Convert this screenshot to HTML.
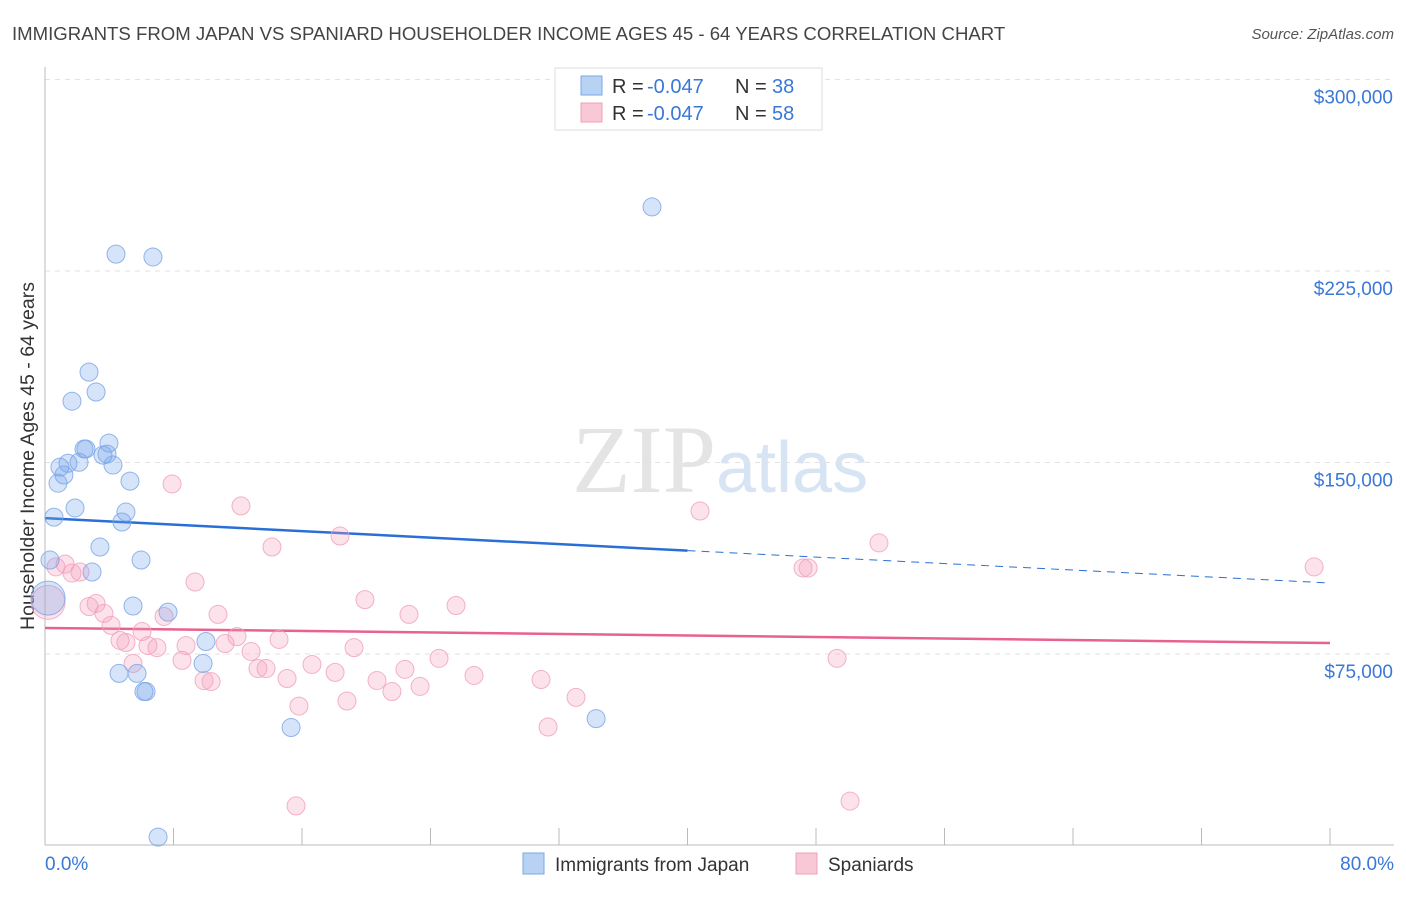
<!DOCTYPE html>
<html><head><meta charset="utf-8"><style>
body{margin:0;background:#fff;font-family:"Liberation Sans",sans-serif;}
</style></head><body>
<svg id="chart" width="1406" height="892" xmlns="http://www.w3.org/2000/svg">
<text x="12" y="40" font-size="18.6" fill="#444">IMMIGRANTS FROM JAPAN VS SPANIARD HOUSEHOLDER INCOME AGES 45 - 64 YEARS CORRELATION CHART</text>
<text x="1394" y="39" font-size="15" fill="#555" text-anchor="end" font-style="italic">Source: ZipAtlas.com</text>
<text x="716" y="492" font-size="96" fill="#e4e4e4" text-anchor="end" font-family="Liberation Serif,serif">ZIP</text>
<text x="716" y="492" font-size="72" fill="#d6e4f4">atlas</text>
<text transform="translate(34,456) rotate(-90)" font-size="19.5" fill="#333" text-anchor="middle">Householder Income Ages 45 - 64 years</text>
<g id="grid"></g><g id="axes"></g><g id="trend"></g><g id="pts"></g>
<g>
<rect x="555" y="68" width="267" height="62" fill="#fff" stroke="#ddd"/>
<rect x="581" y="76" width="21" height="19" fill="#b8d2f4" stroke="#7aa8e6"/>
<rect x="581" y="103" width="21" height="19" fill="#f9c8d6" stroke="#f0a0b8"/>
<text y="93" font-size="20" fill="#333"><tspan x="612">R = </tspan><tspan x="647" fill="#3a78d6">-0.047</tspan><tspan x="735">N = </tspan><tspan x="772" fill="#3a78d6">38</tspan></text>
<text y="120" font-size="20" fill="#333"><tspan x="612">R = </tspan><tspan x="647" fill="#3a78d6">-0.047</tspan><tspan x="735">N = </tspan><tspan x="772" fill="#3a78d6">58</tspan></text>
</g>
<g>
<rect x="523" y="853" width="21" height="21" fill="#b8d2f4" stroke="#7aa8e6"/>
<text x="555" y="871" font-size="19" fill="#333">Immigrants from Japan</text>
<rect x="796" y="853" width="21" height="21" fill="#f9c8d6" stroke="#f0a0b8"/>
<text x="828" y="871" font-size="19" fill="#333">Spaniards</text>
</g>
</svg>
<script>
const yTicks=[75000,150000,225000,300000];
const yTickLabels=["$75,000","$150,000","$225,000","$300,000"];
const xTickLabels=["0.0%","80.0%"];
const japanX=[4.42,6.72,37.79,2.74,3.18,1.68,2.43,2.55,3.98,3.86,3.61,1.43,2.12,4.23,0.93,1.18,0.81,5.29,1.87,5.04,0.56,4.79,3.42,0.31,5.98,2.93,5.48,7.66,0.19,10.02,9.84,4.61,5.73,6.16,6.29,15.32,34.31,7.04];
const japanY=[231600,230500,250100,185400,177600,174000,155300,155300,157600,153300,152900,149700,150100,149000,148200,145100,141900,142700,132200,130600,128600,126700,116900,111800,111800,107100,93800,91400,96900,79900,71300,67400,67400,60300,60300,46200,49700,3300];
const spanX=[7.91,12.20,40.78,14.13,18.37,51.92,79.01,47.19,47.51,0.68,1.25,1.68,2.18,9.34,0.19,19.92,25.59,2.74,3.18,3.67,10.77,22.66,7.41,4.11,6.04,4.67,5.04,6.41,6.97,8.78,11.95,14.57,19.24,11.21,12.83,8.53,24.53,49.31,13.26,13.76,16.62,18.06,22.41,26.71,9.90,10.34,15.07,20.67,30.88,21.60,23.35,33.06,15.81,18.80,31.32,15.63,50.12,5.48];
const spanY=[141600,133000,131000,116900,121200,118500,109100,108700,108700,109100,110200,106700,107100,103200,95200,96300,94000,93600,94800,90900,90500,90500,89700,86200,83800,80300,79500,78300,77500,78300,81800,80700,77500,79100,76000,72500,73300,73300,69300,69300,70900,67800,69000,66600,64600,64200,65400,64600,65000,60300,62300,58000,54600,56600,46400,15500,17400,71300];
const japanTrend=[128200,102800];
const spanTrend=[85200,79300];
const NS="http://www.w3.org/2000/svg";
const X=v=>45+v/80*1285, Y=v=>845.5-v/75000*191.5;
function mk(tag,attrs,parent){const e=document.createElementNS(NS,tag);for(const k in attrs)e.setAttribute(k,attrs[k]);document.getElementById(parent).appendChild(e);return e;}
yTicks.forEach((t,i)=>{
 const g=mk('line',{x1:45,x2:1394,y1:Y(t),y2:Y(t),stroke:'#e2e2e2','stroke-dasharray':'5,5'},'grid');
 
 
 const l=mk('text',{x:1393,y:Y(t)+24,'font-size':19,fill:'#3a78d6','text-anchor':'end'},'axes');
 l.textContent=yTickLabels[i];
 
 
});
const ax=mk('line',{x1:45,x2:45,y1:67,y2:845,stroke:'#bbb'},'axes');


const bx=mk('line',{x1:45,x2:1394,y1:845,y2:845,stroke:'#bbb'},'axes');


for(let i=0;i<=10;i++){const t=mk('line',{x1:X(i*8),x2:X(i*8),y1:828,y2:845,stroke:'#bbb'},'axes');
 
 }
[[0,'start',45],[80,'end',1394]].forEach((d,i)=>{const t=mk('text',{x:d[2],y:870,'font-size':19,fill:'#3a78d6','text-anchor':d[1]},'axes');t.textContent=xTickLabels[i];
 
 });
const bj=v=>japanTrend[0]+(japanTrend[1]-japanTrend[0])*v/80;
let t1=mk('line',{x1:X(0),y1:Y(bj(0)),x2:X(40),y2:Y(bj(40)),stroke:'#2a6fd6','stroke-width':2.5},'trend');


let t2=mk('line',{x1:X(40),y1:Y(bj(40)),x2:X(80),y2:Y(bj(80)),stroke:'#2a6fd6','stroke-width':1,'stroke-dasharray':'8,6'},'trend');


let t3=mk('line',{x1:X(0),y1:Y(spanTrend[0]),x2:X(80),y2:Y(spanTrend[1]),stroke:'#e8628e','stroke-width':2.5},'trend');


function pts(xs,ys,fill,stroke,name,bigIdx){xs.forEach((x,i)=>{
 const c=mk('circle',{cx:X(x),cy:Y(ys[i]),r:i===bigIdx?17:9,fill:fill,stroke:stroke,'stroke-width':1,'stroke-opacity':0.8},'pts');
 
 });}
pts(spanX,spanY,'rgba(244,160,188,0.3)','#f0a0b8','spaniards-point',14);
pts(japanX,japanY,'rgba(120,166,234,0.3)','#78a4e6','japan-point',28);
</script>
</body></html>
